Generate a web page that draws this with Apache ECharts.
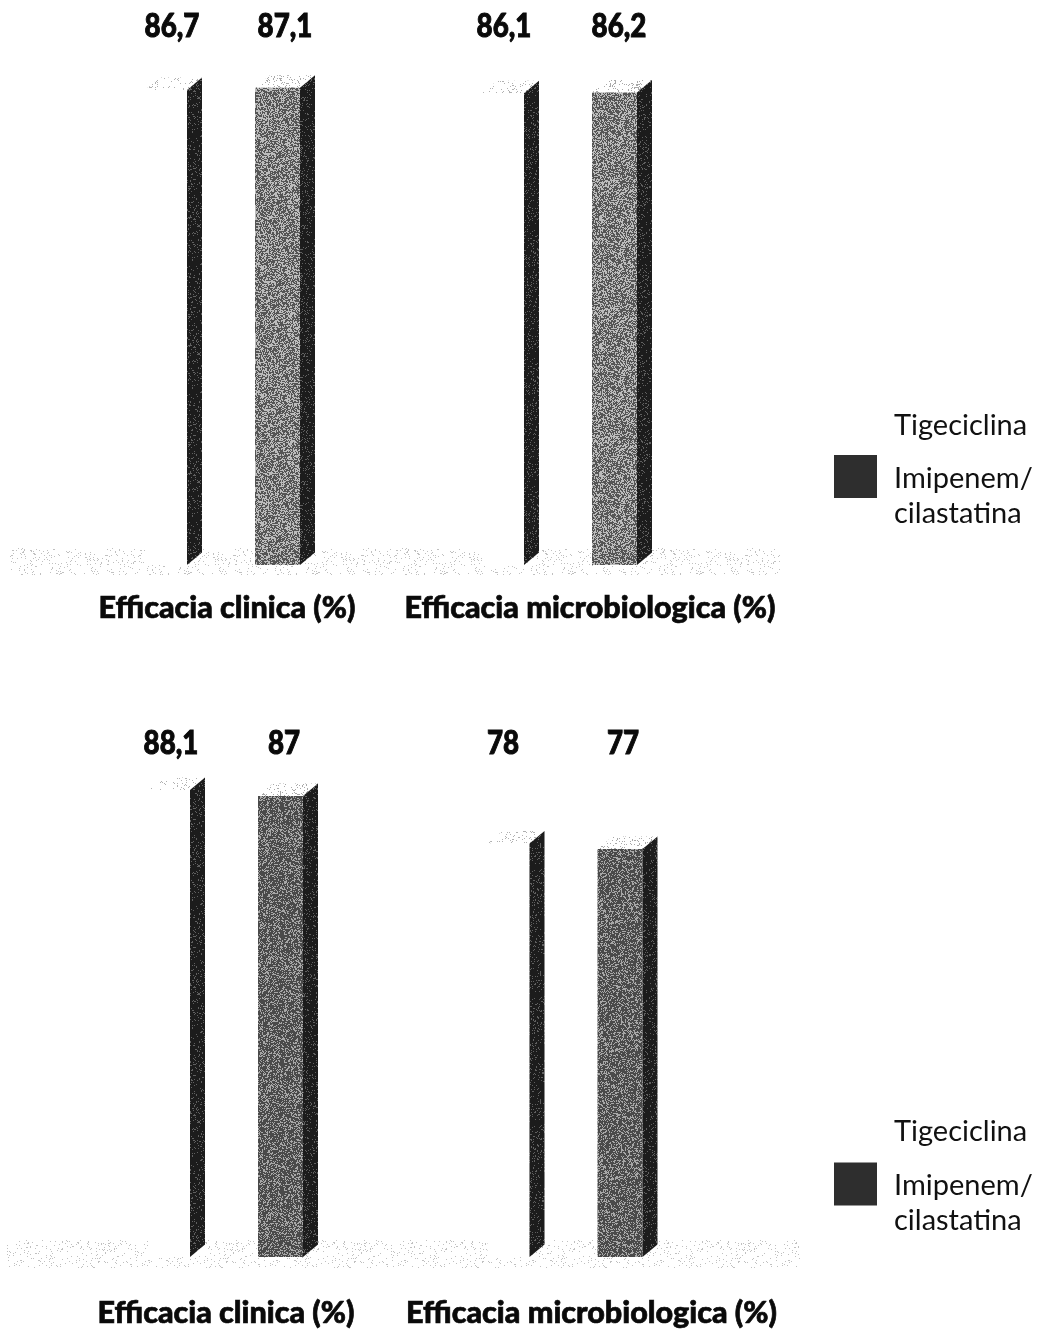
<!DOCTYPE html>
<html><head><meta charset="utf-8">
<style>html,body{margin:0;padding:0;background:#fff}#c{width:1044px;height:1332px}</style>
<script src="https://cdn.jsdelivr.net/npm/echarts@6/dist/echarts.min.js"></script>
</head><body><div id="c"></div>
<script>
const categories = ['Efficacia clinica (%)', 'Efficacia microbiologica (%)'];
const seriesNames = ['Tigeciclina', 'Imipenem/cilastatina'];
const panel1Tigeciclina = [86.7, 86.1];
const panel1Imipenem = [87.1, 86.2];
const panel2Tigeciclina = [88.1, 78];
const panel2Imipenem = [87, 77];

const FONT = 'Lato';

// print-grain texture: a fixed tile of dark/light pixels
function grain(darkShare, dark, light, seed) {
  const n = 128, c = document.createElement('canvas');
  c.width = c.height = n;
  const g = c.getContext('2d');
  let s = seed;
  for (let y = 0; y < n; y++) for (let x = 0; x < n; x++) {
    s = (s * 1664525 + 1013904223) >>> 0;
    g.fillStyle = ((s >>> 16) & 255) / 255 < darkShare ? dark : light;
    g.fillRect(x, y, 1, 1);
  }
  return {image: c, repeat: 'repeat'};
}
const texFront1 = grain(0.55, '#555555', '#bcbcbc', 11);
const texFront2 = grain(0.68, '#4a4a4a', '#a8a8a8', 23);
const texSide = grain(0.88, '#1c1c1c', '#606060', 37);
const texTopI = grain(0.13, '#a8a8a8', '#ffffff', 41);
const texTopT = grain(0.08, '#b0b0b0', '#ffffff', 53);
const texFloor = grain(0.07, '#c0c0c0', '#ffffff', 67);

const panels = [
  {grid:{left:61.5,width:674,top:17,height:548}, margin:28, labelY:9, padA:6, padB:46,
   legendTop:[404.5,436.5], front:texFront1,
   tig:panel1Tigeciclina, imi:panel1Imipenem, nudgeT:[-58,-63], nudgeI:[55,52]},
  {grid:{left:63.25,width:679,top:727,height:530}, margin:41, labelY:16, padA:14, padB:38,
   legendTop:[1110.5,1144], front:texFront2,
   tig:panel2Tigeciclina, imi:panel2Imipenem, nudgeT:[-62,-69.5], nudgeI:[51,50.5]}
];
const fmt = v => String(v).replace('.', ',');

function barRenderer(p, kind) {
  const isTig = kind === 0;
  return function (params, api) {
    const i = api.value(0), v = api.value(1);
    const top = api.coord([i, v]), base = api.coord([i, 0]);
    const cx = top[0];
    const x0 = cx + (isTig ? -85 : 25), w = isTig ? 42 : 45, sw = 15, d = 12.5;
    const x1 = x0 + w, y0 = top[1], y1 = base[1];
    const nudge = (isTig ? p.nudgeT : p.nudgeI)[i];
    return {type:'group', children:[
      {type:'polygon', shape:{points:[[x0,y0],[x1,y0],[x1+sw,y0-d],[x0+sw,y0-d]]},
        style:{fill:isTig ? texTopT : texTopI}},
      {type:'rect', shape:{x:x0,y:y0,width:w,height:y1-y0},
        style:{fill:isTig ? '#ffffff' : p.front}},
      {type:'polygon', shape:{points:[[x1,y0],[x1+sw,y0-d],[x1+sw,y1-d],[x1,y1]]},
        style:{fill:texSide}},
      {type:'text', x:cx+nudge, y:params.coordSys.y+p.labelY, scaleX:0.84, originX:0, originY:0,
        style:{text:fmt(v), fontFamily:FONT, fontWeight:900, fontSize:33, fill:'#0a0a0a',
          stroke:'#0a0a0a', lineWidth:1, align:'center', verticalAlign:'middle'}}
    ]};
  };
}

const grid=[], xAxis=[], yAxis=[], series=[], legend=[];
panels.forEach((p, n) => {
  const lab = {fontFamily:FONT, fontWeight:900, fontSize:30.5, color:'#0a0a0a',
    textBorderColor:'#0a0a0a', textBorderWidth:0.7};
  grid.push(p.grid);
  xAxis.push({type:'category', gridIndex:n, data:categories,
    axisLine:{show:false}, axisTick:{show:false},
    axisLabel:{margin:p.margin, interval:0, color:'#0a0a0a',
      formatter:(s, idx) => idx === 0 ? '{a|'+s+'}' : '{b|'+s+'}',
      rich:{a:{...lab, padding:[0,p.padA,0,0]}, b:{...lab, padding:[0,0,0,p.padB]}}}});
  yAxis.push({type:'value', gridIndex:n, min:0, max:100, show:false, splitLine:{show:false}});
  [p.tig, p.imi].forEach((vals, k) => series.push({
    type:'custom', name:seriesNames[k], xAxisIndex:n, yAxisIndex:n,
    data:vals.map((v, i) => [i, v]), renderItem:barRenderer(p, k),
    encode:{x:0, y:1}, clip:false, silent:true,
    itemStyle:{color:k ? '#555555' : '#ffffff'}
  }));
  legend.push({left:834, top:p.legendTop[0], padding:0, orient:'vertical', itemWidth:43, itemHeight:43,
    selectedMode:false, textStyle:{fontSize:29, fontFamily:FONT, color:'#111', padding:[0,0,0,12]},
    data:[{name:seriesNames[0], icon:'rect', itemStyle:{color:'#ffffff', borderWidth:0}}]});
  legend.push({left:834, top:p.legendTop[1], padding:0, orient:'vertical', itemWidth:43, itemHeight:43,
    selectedMode:false,
    formatter:() => '{e| }\n{t|Imipenem/}\n{t|cilastatina}',
    textStyle:{color:'#111', padding:[0,0,0,12],
      rich:{e:{fontSize:10, lineHeight:39},
            t:{fontSize:29, fontFamily:FONT, lineHeight:35, color:'#111'}}},
    data:[{name:seriesNames[1], icon:'rect', itemStyle:{color:'#2e2e2e', borderWidth:0}}]});
});

const floor = (x,y,w,h) => ({type:'rect', z:-1, shape:{x,y,width:w,height:h}, style:{fill:texFloor}});
const chart = echarts.init(document.getElementById('c'), null, {renderer:'canvas'});
chart.setOption({
  animation:false, backgroundColor:'#ffffff', tooltip:{show:false},
  grid, xAxis, yAxis, series, legend,
  graphic:[floor(10,548,770,27), floor(5,1240,795,28)]
});
</script></body></html>
